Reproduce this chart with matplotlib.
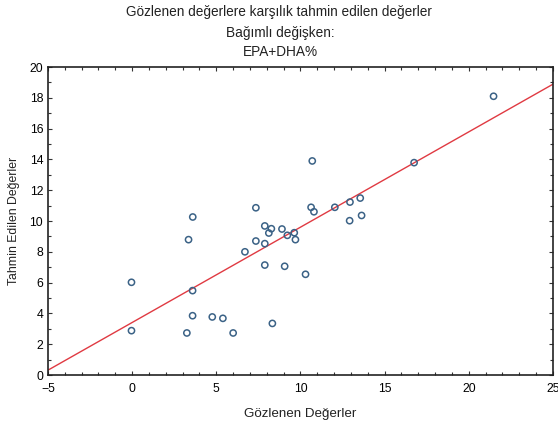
import numpy as np
import matplotlib.pyplot as plt
from matplotlib.ticker import MultipleLocator

plt.rcParams['font.family'] = ['Liberation Sans', 'DejaVu Sans']

observed = [21.47, 16.75, 10.7, 3.6, 7.35, 10.63, 10.8, 12.04, 12.94, 13.55,
            12.92, 13.63, 3.35, 7.88, 8.27, 8.12, 8.9, 9.63, 9.22, 9.7,
            7.35, 7.88, 6.7, 7.88, 9.06, 10.3, -0.04, 3.59, 3.59, 4.76,
            5.39, 8.33, -0.04, 3.25, 6.0]
predicted = [18.1, 13.79, 13.9, 10.26, 10.86, 10.89, 10.6, 10.89, 11.23, 11.49,
             10.02, 10.36, 8.79, 9.68, 9.5, 9.22, 9.48, 9.24, 9.07, 8.79,
             8.7, 8.53, 8.0, 7.14, 7.06, 6.54, 6.02, 5.48, 3.85, 3.77,
             3.68, 3.35, 2.88, 2.73, 2.73]

# regression line
fit_intercept = 3.41
fit_slope = 0.619

fig = plt.figure(figsize=(5.58, 4.26), dpi=100)
ax = fig.add_axes([0.086, 0.1197, 0.905, 0.723])

xs = np.array([-5, 25])
ax.plot(xs, fit_intercept + fit_slope * xs, color="#e03a42", lw=1.0, zorder=2)
ax.scatter(observed, predicted, s=20, facecolors="none", edgecolors="#3b6286",
           linewidths=1.1, zorder=3)

ax.set_xlim(-5, 25)
ax.set_ylim(0, 20)
ax.xaxis.set_major_locator(MultipleLocator(5))
ax.xaxis.set_minor_locator(MultipleLocator(1))
ax.yaxis.set_major_locator(MultipleLocator(2))
ax.yaxis.set_minor_locator(MultipleLocator(1))
ax.tick_params(which="both", direction="in", top=True, right=True,
               labelsize=8.8, color="#333333", width=0.8)
ax.tick_params(which="major", length=3)
ax.tick_params(which="minor", length=2)
ax.tick_params(axis="x", pad=6)
for s in ax.spines.values():
    s.set_color("#222222")
    s.set_linewidth(1.2)

ax.set_xlabel("Gözlenen Değerler", fontsize=9.6, labelpad=9, color="#222222")
ax.set_ylabel("Tahmin Edilen Değerler", fontsize=8.8, labelpad=7, color="#222222")

fig.text(0.5, 0.972, "Gözlenen değerlere karşılık tahmin edilen değerler",
         ha="center", va="center", fontsize=9.8, color="#222222")
fig.text(0.502, 0.922, "Bağımlı değişken:", ha="center", va="center",
         fontsize=9.8, color="#222222")
fig.text(0.502, 0.878, "EPA+DHA%", ha="center", va="center",
         fontsize=9.8, color="#222222")

fig.savefig("out.png", dpi=100)
